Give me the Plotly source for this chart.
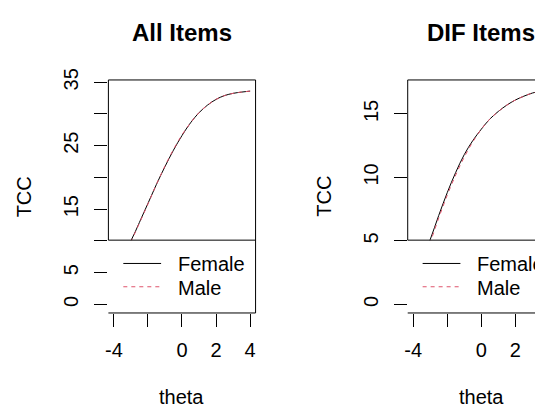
import plotly.graph_objects as go

# ---------------- data ----------------
theta = [-4, -3.5, -3, -2.5, -2, -1.5, -1, -0.5, 0, 0.5, 1, 1.5, 2, 2.5, 3, 3.5, 4]
all_female = [5.6, 7.7, 10.0, 12.9, 15.9, 18.9, 21.7, 24.3, 26.6, 28.6, 30.2, 31.4, 32.3, 32.9, 33.25, 33.45, 33.6]
all_male = [5.5, 7.6, 9.9, 12.8, 15.8, 18.9, 21.8, 24.4, 26.7, 28.6, 30.2, 31.4, 32.3, 32.9, 33.25, 33.45, 33.6]
dif_female = [2.0, 3.4, 5.1, 7.0, 8.8, 10.4, 11.8, 12.9, 13.8, 14.6, 15.2, 15.7, 16.1, 16.4, 16.65, 16.8, 16.9]
dif_male = [1.9, 3.3, 4.9, 6.8, 8.6, 10.2, 11.6, 12.8, 13.8, 14.6, 15.2, 15.7, 16.1, 16.4, 16.65, 16.8, 16.9]

x_ticks = [-4, -2, 0, 2, 4]
x_ticktext = ["-4", "", "0", "2", "4"]
all_yticks = [0, 5, 10, 15, 20, 25, 30, 35]
all_yticktext = ["0", "5", "", "15", "", "25", "", "35"]
dif_yticks = [0, 5, 10, 15]
dif_yticktext = ["0", "5", "10", "15"]
titles = ["All Items", "DIF Items"]
series_names = ["Female", "Male"]

# ---------------- layout geometry ----------------
W, H = 535, 412
FONT = "Liberation Sans, Arial, sans-serif"
BLACK = "#000000"
RED = "#DF536B"
DASH = "4px,4px"

def px(x):
    return x / W

def py(y):
    return 1 - y / H

panel_left = [106, 407]
panel_w = 148
top_px, bot_px = 70, 310
legend_top_px = 235

fig = go.Figure()

fig.add_trace(go.Scatter(x=theta, y=all_female, mode="lines", name="Female",
                         line=dict(color=BLACK, width=1, shape="spline"),
                         xaxis="x", yaxis="y", showlegend=False))
fig.add_trace(go.Scatter(x=theta, y=all_male, mode="lines", name="Male",
                         line=dict(color=RED, width=1, dash=DASH, shape="spline"),
                         xaxis="x", yaxis="y", showlegend=False))
fig.add_trace(go.Scatter(x=theta, y=dif_female, mode="lines", name="Female",
                         line=dict(color=BLACK, width=1, shape="spline"),
                         xaxis="x2", yaxis="y2", showlegend=False))
fig.add_trace(go.Scatter(x=theta, y=dif_male, mode="lines", name="Male",
                         line=dict(color=RED, width=1, dash=DASH, shape="spline"),
                         xaxis="x2", yaxis="y2", showlegend=False))

xr = [-4.32, 4.32]
scale = (xr[1] - xr[0]) / panel_w
xr2 = [xr[0], xr[0] + (W - panel_left[1]) * scale]

ydom = [py(bot_px), py(top_px)]
tickfont = dict(family=FONT, size=20, color=BLACK)

common_x = dict(showgrid=False, zeroline=False, showline=False, ticks="outside",
                ticklen=13, tickwidth=1, tickcolor=BLACK, tickfont=tickfont,
                tickvals=x_ticks, ticktext=x_ticktext, ticklabelstandoff=6)
common_y = dict(showgrid=False, zeroline=False, showline=False, ticks="outside",
                ticklen=13, tickwidth=1, tickcolor=BLACK, tickfont=tickfont,
                tickangle=-90, ticklabelstandoff=8)

fig.update_layout(
    width=W, height=H,
    margin=dict(l=0, r=0, t=0, b=0),
    paper_bgcolor="white", plot_bgcolor="white",
    showlegend=False,
    xaxis=dict(domain=[px(panel_left[0]), px(panel_left[0] + panel_w)], range=xr,
               anchor="y", **common_x),
    yaxis=dict(domain=ydom, range=[-1.36, 35.36], anchor="x",
               tickvals=all_yticks, ticktext=all_yticktext, **common_y),
    xaxis2=dict(domain=[px(panel_left[1]), 1.0], range=xr2, anchor="y2", **common_x),
    yaxis2=dict(domain=ydom, range=[-0.68, 17.68], anchor="x2",
                tickvals=dif_yticks, ticktext=dif_yticktext, **common_y),
)

shapes = []
annotations = []
line_style = dict(color=BLACK, width=1)
for i, x0 in enumerate(panel_left):
    x1 = x0 + panel_w
    # white legend background covering the lower plot area
    shapes.append(dict(type="rect", xref="paper", yref="paper", layer="above",
                       x0=px(x0 + 0.5), x1=px(x1), y0=py(bot_px), y1=py(legend_top_px),
                       fillcolor="white", line=dict(width=0)))
    # frame
    for (ax, ay, bx, by) in [(x0, top_px, x0, legend_top_px),
                             (x0, top_px, x1, top_px),
                             (x1, top_px, x1, bot_px),
                             (x0, bot_px, x1, bot_px),
                             (x0, legend_top_px, x1, legend_top_px)]:
        shapes.append(dict(type="line", xref="paper", yref="paper", layer="above",
                           x0=px(ax), y0=py(ay), x1=px(bx), y1=py(by), line=line_style))
    # legend keys
    for j, (name, col, dash) in enumerate([(series_names[0], BLACK, "solid"),
                                           (series_names[1], RED, DASH)]):
        ly = 259 + j * 24
        shapes.append(dict(type="line", xref="paper", yref="paper", layer="above",
                           x0=px(x0 + 15), x1=px(x0 + 53), y0=py(ly), y1=py(ly),
                           line=dict(color=col, width=1, dash=dash)))
        annotations.append(dict(text=name, xref="paper", yref="paper",
                                x=px(x0 + 68), y=py(ly + 1), xanchor="left", yanchor="middle",
                                showarrow=False, font=dict(family=FONT, size=20, color=BLACK)))
    cx = x0 + panel_w / 2
    annotations.append(dict(text="<b>" + titles[i] + "</b>", xref="paper", yref="paper",
                            x=px(cx), y=py(21), xanchor="center", yanchor="middle",
                            showarrow=False, font=dict(family=FONT, size=24, color=BLACK)))
    annotations.append(dict(text="theta", xref="paper", yref="paper",
                            x=px(cx), y=py(397), xanchor="center", yanchor="middle",
                            showarrow=False, font=dict(family=FONT, size=20, color=BLACK)))
    annotations.append(dict(text="TCC", xref="paper", yref="paper", textangle=-90,
                            x=px(x0 - 84), y=py(190), xanchor="center", yanchor="middle",
                            showarrow=False, font=dict(family=FONT, size=20, color=BLACK)))

fig.update_layout(shapes=shapes, annotations=annotations)
fig.write_html("out.html")
